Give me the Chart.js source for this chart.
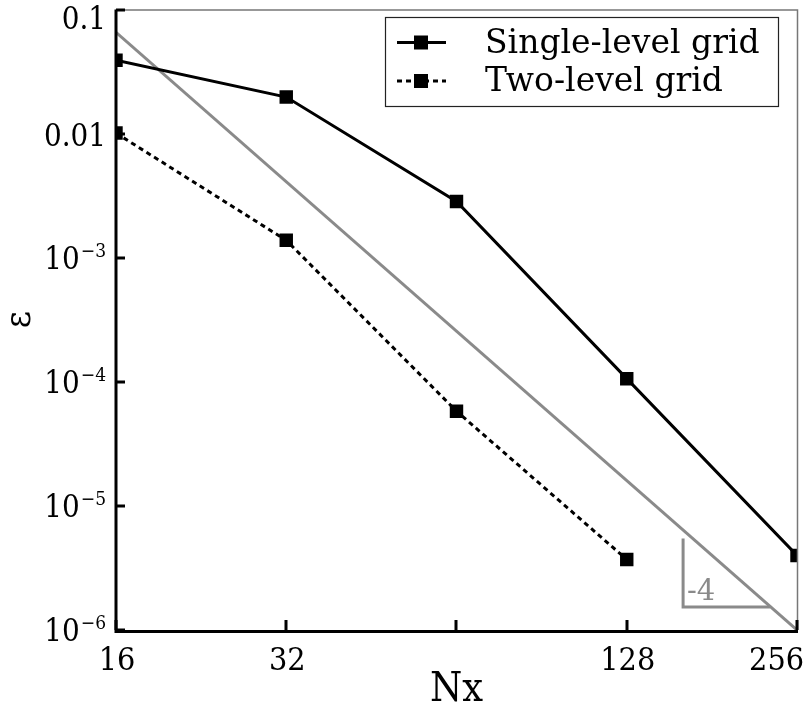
<!DOCTYPE html>
<html>
<head>
<meta charset="utf-8">
<script src="https://cdn.jsdelivr.net/npm/chart.js@4/dist/chart.umd.min.js"></script>
<style>
html,body{margin:0;padding:0;background:#fff;}
canvas{display:block;}
</style>
</head>
<body>
<canvas id="c" width="811" height="708"></canvas>
<script>
// ---- data ----
const nx = [16, 32, 64, 128, 256];
const singleLevel = [0.039, 0.0197, 0.00284, 1.06e-4, 3.99e-6];
const twoLevelNx = [16, 32, 64, 128];
const twoLevel = [0.0101, 1.38e-3, 5.8e-5, 3.7e-6];
const slopeNx = [16, 256];
const slopeRef = [0.0655, 1e-6];
const triangleNx = [161.0, 161.0, 229.3];
const triangleEps = [5.46e-6, 1.53e-6, 1.53e-6];
const slopeLabel = '-4';
const slopeLabelPos = [163.6, 1.74e-6];
const seriesNames = ['Single-level grid', 'Two-level grid'];
const xTicks = [16, 32, 64, 128, 256];
const xTickLabels = ['16', '32', '', '128', '256'];
const yTicks = [1e-6, 1e-5, 1e-4, 1e-3, 0.01, 0.1];
const yTickBase = ['10', '10', '10', '10', '0.01', '0.1'];
const yTickExp = ['\u22126', '\u22125', '\u22124', '\u22123', '', ''];
const xTitle = 'Nx';
const yTitle = '\u03b5';

const FAM = '"DejaVu Serif Condensed", "DejaVu Serif", serif';
const FAMR = '"DejaVu Serif", serif';
const GRAY = '#8a8a8a';

const pts = (xs, ys) => xs.map((x, i) => ({x: x, y: ys[i]}));

const axisPlugin = {
  id: 'axisDeco',
  afterDraw(chart) {
    const ctx = chart.ctx;
    const a = chart.chartArea;
    const xs = chart.scales.x, ys = chart.scales.y;
    ctx.save();
    // thin frame top/right
    ctx.strokeStyle = '#777';
    ctx.lineWidth = 1.5;
    ctx.beginPath();
    ctx.moveTo(a.left, a.top + 0.5); ctx.lineTo(a.right + 0.5, a.top + 0.5); ctx.lineTo(a.right + 0.5, a.bottom);
    ctx.stroke();
    // thick axes
    ctx.strokeStyle = '#000';
    ctx.lineWidth = 3;
    ctx.beginPath();
    ctx.moveTo(a.left, a.top); ctx.lineTo(a.left, a.bottom + 1.5); ctx.lineTo(a.right + 1, a.bottom + 1.5);
    ctx.stroke();
    // ticks
    ctx.lineWidth = 3;
    ctx.beginPath();
    xs.ticks.forEach(t => {
      const px = Math.round(xs.getPixelForValue(t.value));
      ctx.moveTo(px, a.bottom); ctx.lineTo(px, a.bottom - 10);
    });
    ys.ticks.forEach(t => {
      const py = Math.round(ys.getPixelForValue(t.value));
      ctx.moveTo(a.left, py); ctx.lineTo(a.left + 9, py);
    });
    ctx.stroke();
    // x tick labels
    ctx.fillStyle = '#000';
    ctx.font = '32px ' + FAM;
    ctx.textBaseline = 'alphabetic';
    ctx.textAlign = 'center';
    xs.ticks.forEach(t => {
      const lab = xTickLabels[xTicks.indexOf(t.value)] || '';
      if (!lab) return;
      const w = ctx.measureText(lab).width;
      let px = xs.getPixelForValue(t.value) + 1;
      px = Math.min(px, chart.width - 7 - w / 2);
      px = Math.max(px, w / 2 + 1);
      ctx.fillText(lab, px, a.bottom + 40);
    });
    // y tick labels
    ys.ticks.forEach(t => {
      const k = yTicks.findIndex(v => Math.abs(Math.log10(v) - Math.log10(t.value)) < 1e-6);
      if (k < 0) return;
      let py = ys.getPixelForValue(t.value);
      py = Math.max(py, 17);
      const right = a.left - 10;
      const base = yTickBase[k], ex = yTickExp[k];
      ctx.textAlign = 'right';
      ctx.textBaseline = 'alphabetic';
      if (ex) {
        ctx.font = '19px ' + FAM;
        const ew = ctx.measureText(ex).width;
        ctx.fillText(ex, right, py - 1);
        ctx.font = '31px ' + FAM;
        ctx.fillText(base, right - ew - 1, py + 11);
      } else {
        ctx.font = '31px ' + FAM;
        ctx.fillText(base, right, py + 12);
      }
    });
    // slope label
    ctx.fillStyle = GRAY;
    ctx.font = '29px ' + FAMR;
    ctx.textAlign = 'left';
    ctx.textBaseline = 'alphabetic';
    ctx.fillText(slopeLabel, xs.getPixelForValue(slopeLabelPos[0]), ys.getPixelForValue(slopeLabelPos[1]));
    // legend
    const L = {x: 385.5, y: 17.5, w: 393, h: 89};
    ctx.fillStyle = '#fff';
    ctx.fillRect(L.x, L.y, L.w, L.h);
    ctx.strokeStyle = '#222';
    ctx.lineWidth = 1.2;
    ctx.strokeRect(L.x, L.y, L.w, L.h);
    const rows = [42.5, 81];
    const baselines = [53, 91];
    [0, 1].forEach(i => {
      const ds = chart.data.datasets[i];
      const y = rows[i];
      ctx.strokeStyle = '#000';
      ctx.lineWidth = 3;
      ctx.setLineDash(ds.borderDash || []);
      ctx.beginPath();
      ctx.moveTo(397, y); ctx.lineTo(446, y);
      ctx.stroke();
      ctx.setLineDash([]);
      ctx.fillStyle = '#000';
      ctx.fillRect(414, y - 7, 14, 14);
      ctx.font = '33px ' + FAMR;
      ctx.textAlign = 'left';
      ctx.textBaseline = 'alphabetic';
      ctx.fillText(ds.label, 485, baselines[i]);
    });
    ctx.restore();
  }
};

const chart = new Chart(document.getElementById('c'), {
  type: 'line',
  data: {
    datasets: [
      {label: seriesNames[0], data: pts(nx, singleLevel), borderColor: '#000', backgroundColor: '#000',
       borderWidth: 3, pointStyle: 'rect', pointRadius: 9.5, pointBorderWidth: 0, tension: 0},
      {label: seriesNames[1], data: pts(twoLevelNx, twoLevel), borderColor: '#000', backgroundColor: '#000',
       borderWidth: 3, borderDash: [5, 4], pointStyle: 'rect', pointRadius: 9.5, pointBorderWidth: 0, tension: 0},
      {label: 'slope', data: pts(slopeNx, slopeRef), borderColor: GRAY, borderWidth: 3, pointRadius: 0, tension: 0},
      {label: 'triangle', data: pts(triangleNx, triangleEps), borderColor: GRAY, borderWidth: 3, pointRadius: 0, tension: 0}
    ]
  },
  options: {
    responsive: false,
    animation: false,
    devicePixelRatio: 1,
    layout: {padding: {left: 0, right: 14, top: 6, bottom: 0}},
    plugins: {legend: {display: false}, tooltip: {enabled: false}},
    scales: {
      x: {
        type: 'logarithmic', min: 16, max: 256,
        afterBuildTicks: s => { s.ticks = xTicks.map(v => ({value: v})); },
        afterFit: s => { s.height = 78; },
        ticks: {display: false},
        grid: {display: false, drawTicks: false},
        border: {display: false},
        title: {display: true, text: xTitle, color: '#000', font: {family: FAM, size: 41, lineHeight: 0.88}, padding: {top: 0, bottom: 0}}
      },
      y: {
        type: 'logarithmic', min: 1e-6, max: 0.1,
        afterBuildTicks: s => { s.ticks = yTicks.map(v => ({value: v})); },
        afterFit: s => { s.width = 116; },
        ticks: {display: false},
        grid: {display: false, drawTicks: false},
        border: {display: false},
        title: {display: true, text: yTitle, color: '#000', font: {family: FAM, size: 37, lineHeight: 1}, padding: {top: 2, bottom: 0}}
      }
    }
  },
  plugins: [axisPlugin]
});
</script>
</body>
</html>
